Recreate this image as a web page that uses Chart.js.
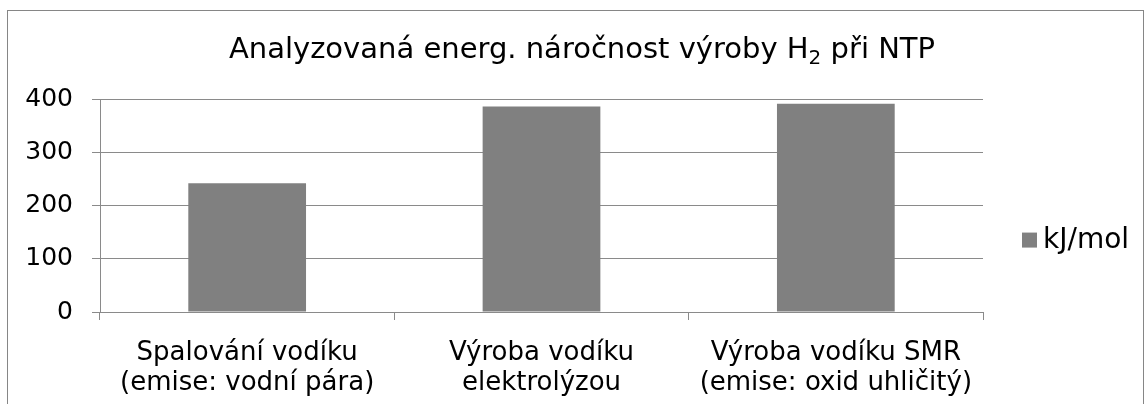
<!DOCTYPE html>
<html>
<head>
<meta charset="utf-8">
<script src="https://cdn.jsdelivr.net/npm/chart.js@4"></script>
<style>
  html, body { margin: 0; padding: 0; background: #fff; overflow: hidden; }
  #wrap { position: absolute; left: 0; top: 0; width: 1145px; height: 404px; }
  #frame {
    position: absolute; left: 7px; top: 10px; width: 1135px; height: 420px;
    border: 1px solid #868686; pointer-events: none;
  }
</style>
</head>
<body>
<div id="wrap">
  <canvas id="chart" width="1145" height="404"></canvas>
  <div id="frame"></div>
</div>
<script>
  // title: main part, subscript, rest
  const titleParts = ["Analyzovaná energ. náročnost výroby H", "2", " při NTP"];
  const categories = [
    ["Spalování vodíku", "(emise: vodní pára)"],
    ["Výroba vodíku", "elektrolýzou"],
    ["Výroba vodíku SMR", "(emise: oxid uhličitý)"],
  ];
  const seriesName = "kJ/mol";
  const values = [242, 386, 391];
  const yTicks = [0, 100, 200, 300, 400];

  const FONT = "'DejaVu Sans', Verdana, sans-serif";
  const barColor = "#808080";
  const gridColor = "#8a8a8a";

  // title with a real subscript
  const subTitle = {
    id: "subTitle",
    afterDraw(chart) {
      const ctx = chart.ctx;
      const big = "29px " + FONT;
      const small = "20px " + FONT;
      ctx.save();
      ctx.fillStyle = "#000";
      ctx.textBaseline = "alphabetic";
      ctx.font = big;
      const w1 = ctx.measureText(titleParts[0]).width;
      const w3 = ctx.measureText(titleParts[2]).width;
      ctx.font = small;
      const w2 = ctx.measureText(titleParts[1]).width;
      let x = 582 - (w1 + w2 + w3) / 2;
      const y = 58;
      ctx.font = big;
      ctx.fillText(titleParts[0], x, y);
      x += w1;
      ctx.font = small;
      ctx.fillText(titleParts[1], x, y + 6);
      x += w2;
      ctx.font = big;
      ctx.fillText(titleParts[2], x, y);
      ctx.restore();
    },
  };

  // legend drawn beside the plot
  const sideLegend = {
    id: "sideLegend",
    afterDraw(chart) {
      const ctx = chart.ctx;
      const area = chart.chartArea;
      const ds = chart.data.datasets[0];
      const x = area.right + 39;
      const y = area.top + (area.bottom - area.top) * 0.66;
      ctx.save();
      ctx.fillStyle = ds.backgroundColor;
      ctx.fillRect(x, y - 7, 15, 15);
      ctx.fillStyle = "#000";
      ctx.font = "28px " + FONT;
      ctx.textBaseline = "middle";
      ctx.fillText(ds.label, x + 21, y + 1);
      ctx.restore();
    },
  };

  new Chart(document.getElementById("chart"), {
    type: "bar",
    data: {
      labels: categories,
      datasets: [
        {
          label: seriesName,
          data: values,
          backgroundColor: barColor,
          borderWidth: 0,
          categoryPercentage: 1,
          barPercentage: 0.4,
        },
      ],
    },
    options: {
      responsive: false,
      animation: false,
      layout: { padding: { left: 0, right: 162, top: 99, bottom: 0 } },
      plugins: {
        legend: { display: false },
        tooltip: { enabled: false },
        title: { display: false },
      },
      scales: {
        x: {
          afterFit: (scale) => { scale.height = 92; },
          grid: {
            display: true,
            drawOnChartArea: false,
            drawTicks: true,
            tickLength: 8,
            color: gridColor,
            offset: true,
          },
          border: { display: true, color: gridColor },
          ticks: {
            color: "#000",
            font: { family: FONT, size: 26, lineHeight: 1.15 },
            padding: 18,
            maxRotation: 0,
            autoSkip: false,
          },
        },
        y: {
          min: yTicks[0],
          max: yTicks[yTicks.length - 1],
          afterFit: (scale) => { scale.width = 100; },
          afterBuildTicks: (scale) => {
            scale.ticks = yTicks.map((v) => ({ value: v }));
          },
          grid: { color: gridColor, tickLength: 8 },
          border: { display: true, color: gridColor },
          ticks: {
            color: "#000",
            font: { family: FONT, size: 25 },
            padding: 19,
          },
        },
      },
    },
    plugins: [subTitle, sideLegend],
  });
</script>
</body>
</html>
